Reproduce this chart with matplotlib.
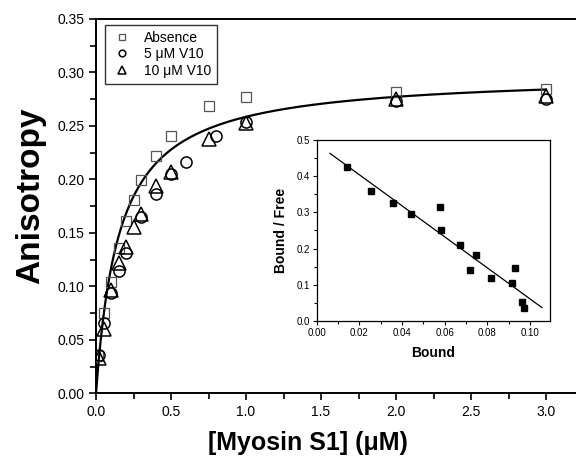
import matplotlib.pyplot as plt
import numpy as np
from matplotlib.ticker import MultipleLocator, FormatStrFormatter

plt.rcParams["font.family"] = ["Liberation Sans", "DejaVu Sans"]

# main panel: anisotropy vs [Myosin S1] (uM)
absence_x = [0.015, 0.05, 0.1, 0.15, 0.2, 0.25, 0.3, 0.4, 0.5, 0.75, 1.0, 2.0, 3.0]
absence_y = [0.035, 0.075, 0.104, 0.136, 0.161, 0.181, 0.199, 0.222, 0.241, 0.269, 0.277, 0.282, 0.285]

v5_x = [0.02, 0.05, 0.1, 0.15, 0.2, 0.3, 0.4, 0.5, 0.6, 0.8, 1.0, 2.0, 3.0]
v5_y = [0.036, 0.066, 0.0935, 0.114, 0.131, 0.165, 0.186, 0.205, 0.2165, 0.2405, 0.254, 0.273, 0.275]

v10_x = [0.02, 0.05, 0.1, 0.15, 0.2, 0.25, 0.3, 0.4, 0.5, 0.75, 1.0, 2.0, 3.0]
v10_y = [0.033, 0.06, 0.0965, 0.1215, 0.137, 0.1557, 0.168, 0.194, 0.207, 0.238, 0.253, 0.275, 0.278]

# hyperbolic binding fit
fit_amax = 0.2988
fit_kd = 0.1557

# inset: Scatchard plot
bound = [0.0143, 0.0254, 0.0357, 0.0442, 0.0579, 0.0583, 0.0673, 0.0746,
         0.0720, 0.0816, 0.0914, 0.0930, 0.0964, 0.0974]
bound_free = [0.4245, 0.359, 0.327, 0.2956, 0.314, 0.251, 0.209, 0.181,
              0.141, 0.118, 0.104, 0.146, 0.0525, 0.035]
line_slope = -4.286
line_intercept = 0.4897
line_range = (0.0062, 0.1056)

fig = plt.figure(figsize=(5.76, 4.62), dpi=100)
ax = fig.add_axes([0.1667, 0.1487, 0.8333, 0.8102])

xs = np.linspace(0, 3.0, 400)
ax.plot(xs, fit_amax * xs / (fit_kd + xs), color="black", lw=1.6, zorder=2)

ax.plot(absence_x, absence_y, "s", ms=7.2, mfc="none", mec="#555555", mew=0.9,
        label="Absence", zorder=3)
ax.plot(v5_x, v5_y, "o", ms=8, mfc="none", mec="black", mew=1.1,
        label="5 \u03bcM V10", zorder=3)
ax.plot(v10_x, v10_y, "^", ms=9.4, mfc="none", mec="black", mew=1.1,
        label="10 \u03bcM V10", zorder=3)

ax.set_xlim(0, 3.2)
ax.set_ylim(0, 0.35)
ax.xaxis.set_major_locator(MultipleLocator(0.5))
ax.xaxis.set_minor_locator(MultipleLocator(0.25))
ax.yaxis.set_major_locator(MultipleLocator(0.05))
ax.yaxis.set_minor_locator(MultipleLocator(0.025))
ax.xaxis.set_major_formatter(FormatStrFormatter("%.1f"))
ax.yaxis.set_major_formatter(FormatStrFormatter("%.2f"))
ax.tick_params(which="both", direction="out", width=1.2, labelsize=10)
ax.tick_params(which="major", length=5)
ax.tick_params(which="minor", length=4)
ax.spines["right"].set_visible(False)
for s in ["left", "bottom", "top"]:
    ax.spines[s].set_linewidth(1.4)
ax.set_xlabel("[Myosin S1] (\u03bcM)", fontsize=18, fontweight="bold")
ax.set_ylabel("Anisotropy", fontsize=24, fontweight="bold")
ax.xaxis.set_label_coords(0.442, -0.1)
ax.yaxis.set_label_coords(-0.104, 0.527)

leg = ax.legend(loc="upper left", bbox_to_anchor=(0.019, 0.984), fontsize=10,
                markerscale=0.6, frameon=True, fancybox=False, edgecolor="black",
                handlelength=1.6, handletextpad=0.8, borderpad=0.4,
                labelspacing=0.2, borderaxespad=0)
leg.get_frame().set_linewidth(1.0)

# inset
ins = fig.add_axes([0.5498, 0.3052, 0.4051, 0.3918])
bx = np.linspace(line_range[0], line_range[1], 50)
ins.plot(bx, line_intercept + line_slope * bx, color="black", lw=0.9)
ins.plot(bound, bound_free, "s", ms=4, color="black")
ins.set_xlim(0, 0.1094)
ins.set_ylim(0, 0.5)
ins.xaxis.set_major_locator(MultipleLocator(0.02))
ins.xaxis.set_minor_locator(MultipleLocator(0.01))
ins.yaxis.set_major_locator(MultipleLocator(0.1))
ins.yaxis.set_minor_locator(MultipleLocator(0.05))
ins.xaxis.set_major_formatter(FormatStrFormatter("%.2f"))
ins.yaxis.set_major_formatter(FormatStrFormatter("%.1f"))
ins.tick_params(which="both", direction="out", width=0.8, labelsize=7, pad=2)
ins.tick_params(which="major", length=3)
ins.tick_params(which="minor", length=2)
for s in ins.spines.values():
    s.set_linewidth(0.9)
ins.set_xlabel("Bound", fontsize=10, fontweight="bold", labelpad=6)
ins.set_ylabel("Bound / Free", fontsize=10, fontweight="bold", labelpad=6)

fig.savefig("out.png", dpi=100)
